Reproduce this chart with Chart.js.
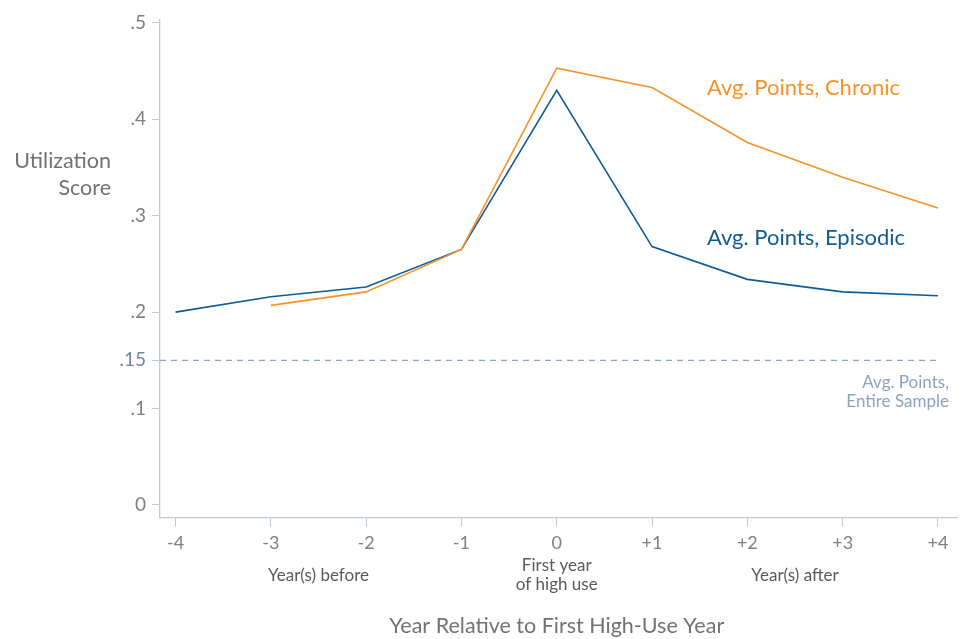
<!DOCTYPE html>
<html lang="en">
<head>
    <meta charset="UTF-8">
    <title>Utilization Score</title>
    <style>
        * { margin: 0; padding: 0; box-sizing: border-box; }
        body { background: #fff; width: 964px; height: 639px; overflow: hidden; }
        #wrap { position: relative; width: 964px; height: 639px; }
    </style>
</head>
<body>
    <div id="wrap"><canvas id="chart"></canvas></div>

    <script src="https://cdn.jsdelivr.net/npm/chart.js"></script>
    <script>
        // data
        const years = [-4, -3, -2, -1, 0, 1, 2, 3, 4];
        const xTickLabels = ['-4', '-3', '-2', '-1', '0', '+1', '+2', '+3', '+4'];
        const chronic = [null, 0.207, 0.221, 0.265, 0.453, 0.433, 0.376, 0.340, 0.308];
        const episodic = [0.200, 0.216, 0.226, 0.265, 0.430, 0.268, 0.234, 0.221, 0.217];
        const sampleAvg = 0.15;
        const yTicks = [0, 0.1, 0.15, 0.2, 0.3, 0.4, 0.5];
        const yTickLabels = ['0', '.1', '.15', '.2', '.3', '.4', '.5'];

        const X_MIN = -4.163, X_MAX = 4.2;
        const Y_MIN = -0.013, Y_MAX = 0.503;

        const ORANGE = '#f7922a';
        const BLUE = '#0f5b95';
        const AXIS = '#bccadb';
        const GREY = '#7f7f7f';
        const REF = '#8ea2bd';
        const FONT = 'Lato, "Open Sans", sans-serif';

        const toPoints = arr => years.map((x, i) => ({ x: x, y: arr[i] }));

        // text drawn around the plot
        const labelsPlugin = {
            id: 'labels',
            afterDraw(chart) {
                const c = chart.ctx;
                const xs = chart.scales.x, ys = chart.scales.y;
                c.save();
                c.textBaseline = 'middle';

                c.font = '21.5px ' + FONT;
                c.fillStyle = '#727272';
                c.textAlign = 'right';
                c.fillText('Utilization', 111, 161);
                c.fillText('Score', 111, 188);

                c.textAlign = 'center';
                c.fillText('Year Relative to First High-Use Year', xs.getPixelForValue(0), 626);

                c.font = '17px ' + FONT;
                c.fillStyle = '#5a5a5a';
                c.fillText('Year(s) before', xs.getPixelForValue(-2.5), 576);
                c.fillText('First year', xs.getPixelForValue(0), 566);
                c.fillText('of high use', xs.getPixelForValue(0), 585);
                c.fillText('Year(s) after', xs.getPixelForValue(2.5), 576);

                c.textAlign = 'left';
                c.font = '22px ' + FONT;
                c.fillStyle = ORANGE;
                c.fillText('Avg. Points, Chronic', 707, 88);
                c.fillStyle = BLUE;
                c.fillText('Avg. Points, Episodic', 707, 238);

                c.textAlign = 'right';
                c.font = '17px ' + FONT;
                c.fillStyle = REF;
                const yRef = ys.getPixelForValue(sampleAvg);
                c.fillText('Avg. Points,', 949, yRef + 22);
                c.fillText('Entire Sample', 949, yRef + 41);
                c.restore();
            }
        };

        new Chart(document.getElementById('chart'), {
            type: 'line',
            data: {
                datasets: [
                    {
                        label: 'Avg. Points, Entire Sample',
                        data: [{ x: X_MIN, y: sampleAvg }, { x: years[years.length - 1], y: sampleAvg }],
                        borderColor: REF, borderWidth: 1.3, borderDash: [6, 5],
                        pointRadius: 0, fill: false
                    },
                    {
                        label: 'Avg. Points, Chronic',
                        data: toPoints(chronic),
                        borderColor: ORANGE, borderWidth: 1.6,
                        pointRadius: 0, fill: false, spanGaps: false
                    },
                    {
                        label: 'Avg. Points, Episodic',
                        data: toPoints(episodic),
                        borderColor: BLUE, borderWidth: 1.6,
                        pointRadius: 0, fill: false
                    }
                ]
            },
            options: {
                responsive: true,
                maintainAspectRatio: false,
                animation: false,
                layout: { padding: { left: 100, top: 20, right: 7, bottom: 0 } },
                plugins: { legend: { display: false }, tooltip: { enabled: false } },
                scales: {
                    x: {
                        type: 'linear',
                        min: X_MIN, max: X_MAX,
                        afterBuildTicks: s => { s.ticks = years.map(v => ({ value: v })); },
                        afterFit: s => { s.height = 121.5; },
                        ticks: {
                            callback: (v, i) => xTickLabels[i],
                            color: GREY,
                            font: { family: FONT, size: 18 },
                            padding: 6,
                            maxRotation: 0
                        },
                        grid: { drawOnChartArea: false, drawTicks: true, tickLength: 9, color: AXIS },
                        border: { color: AXIS, width: 1.3 }
                    },
                    y: {
                        min: Y_MIN, max: Y_MAX,
                        afterBuildTicks: s => { s.ticks = yTicks.map(v => ({ value: v })); },
                        afterFit: s => { s.width = 60; },
                        ticks: {
                            callback: (v, i) => yTickLabels[i],
                            color: ctx => ctx.tick && ctx.tick.value === sampleAvg ? '#6c86a8' : GREY,
                            font: { family: FONT, size: 19 },
                            padding: 6
                        },
                        grid: { drawOnChartArea: false, drawTicks: true, tickLength: 8, color: AXIS },
                        border: { color: AXIS, width: 1.3 }
                    }
                }
            },
            plugins: [labelsPlugin]
        });
    </script>
</body>
</html>
